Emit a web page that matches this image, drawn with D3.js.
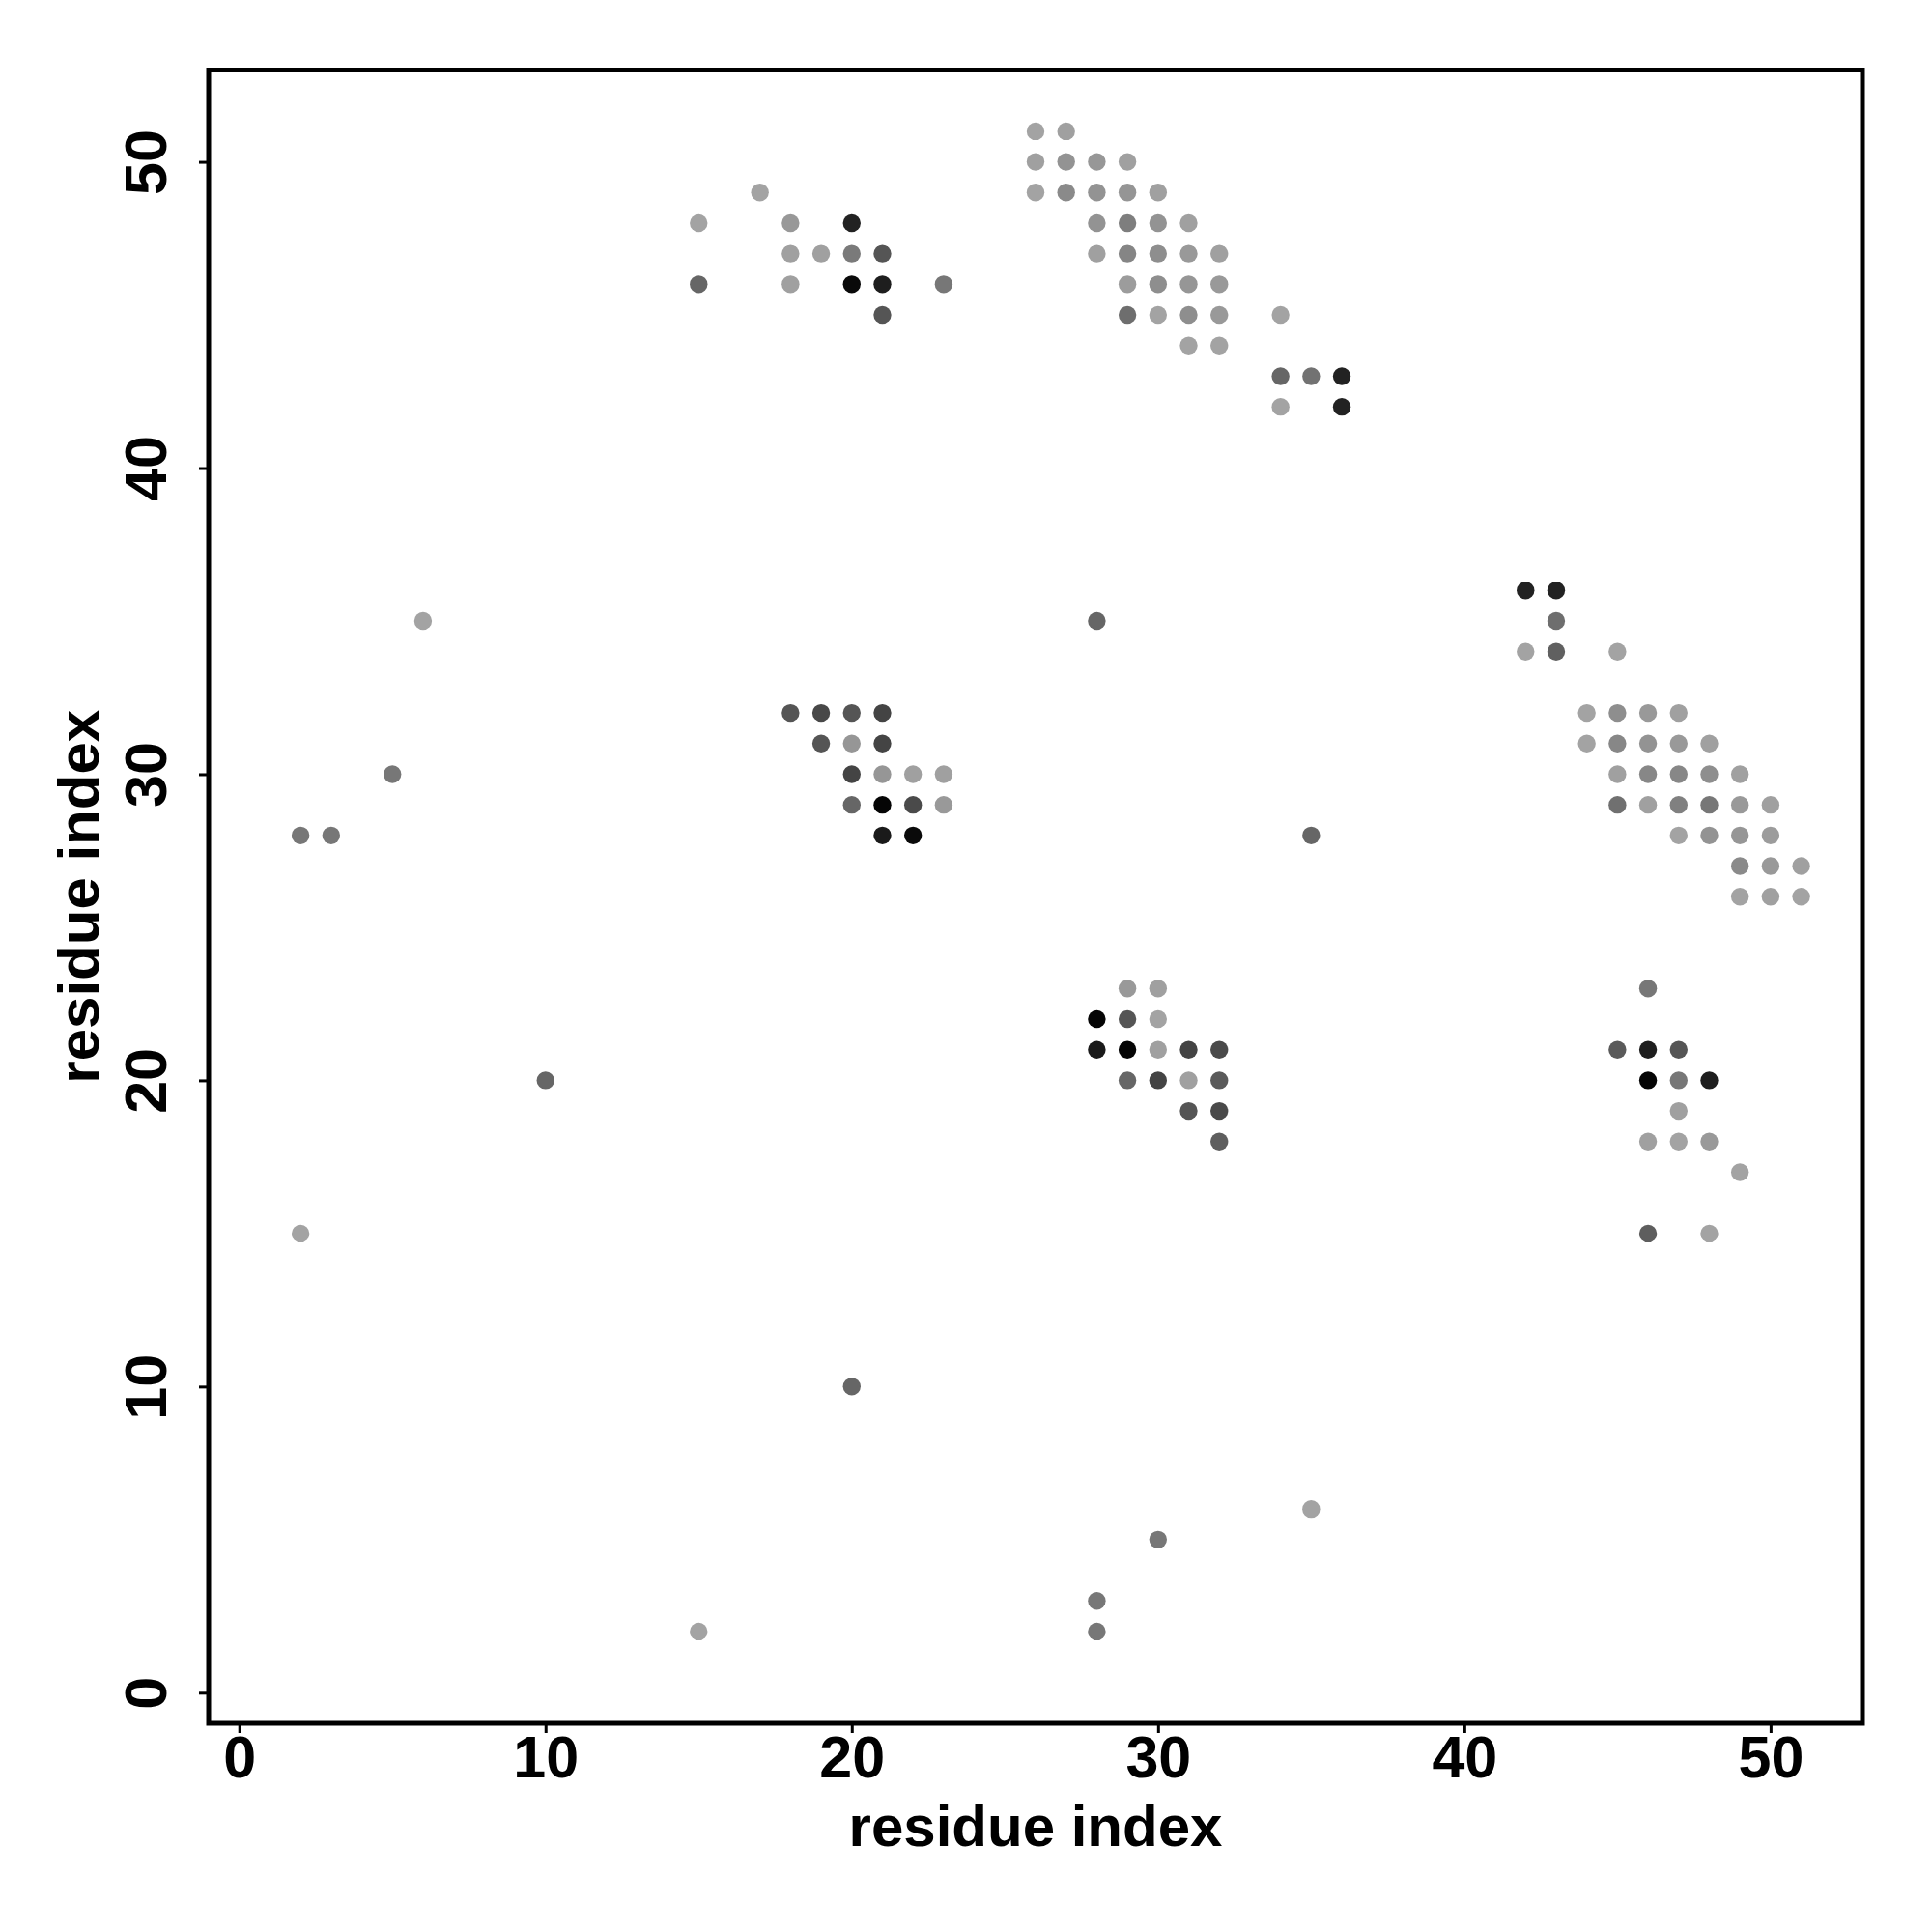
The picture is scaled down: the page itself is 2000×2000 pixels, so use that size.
<!DOCTYPE html>
<html>
<head>
<meta charset="utf-8">
<script src="https://cdn.jsdelivr.net/npm/d3@7"></script>
<style>
  html, body { margin: 0; padding: 0; background: #fff; }
  svg { display: block; }
</style>
</head>
<body>
<svg id="chart" width="2000" height="2000"></svg>
<script>
// ---- data: contact map (residue i, residue j, gray level 0-255) ----
const resX = [
  17,15,18,20,18,19,20,21,15,18,20,21,23,21,
  26,27,26,27,28,29,26,27,28,29,30,28,29,30,31,28,29,30,31,32,29,30,31,32,29,30,31,32,34,31,32,34,35,36,34,36,
  18,19,20,21,19,20,21,20,21,22,23,20,21,22,23,21,22,
  42,43,43,42,43,45,44,45,46,47,44,45,46,47,48,45,46,47,48,49,45,46,47,48,49,50,47,48,49,50,49,50,51,49,50,51,
  29,30,28,29,30,28,29,30,31,32,29,30,31,32,31,32,32,
  46,45,46,47,46,47,48,47,46,47,48,49,46,48,
  6,5,2,3,10,2,28,35,20,35,30,28,28,15
];
const resY = [
  49,48,48,48,47,47,47,47,46,46,46,46,46,45,
  51,51,50,50,50,50,49,49,49,49,49,48,48,48,48,47,47,47,47,47,46,46,46,46,45,45,45,45,45,44,44,43,43,43,42,42,
  32,32,32,32,31,31,31,30,30,30,30,29,29,29,29,28,28,
  36,36,35,34,34,34,32,32,32,32,31,31,31,31,31,30,30,30,30,30,29,29,29,29,29,29,28,28,28,28,27,27,27,26,26,26,
  23,23,22,22,22,21,21,21,21,21,20,20,20,20,19,19,18,
  23,21,21,21,20,20,20,19,18,18,18,17,15,15,
  35,30,28,28,20,15,35,28,10,6,5,3,2,2
];
const grayLevel = [
  163,163,152,34,160,160,122,85,102,160,10,30,119,85,
  163,160,160,147,151,160,163,138,147,149,160,147,126,147,160,160,133,142,153,160,156,142,150,153,110,163,142,153,163,163,163,102,114,34,163,34,
  85,72,85,68,85,150,68,68,150,160,160,102,5,74,153,26,10,
  34,34,110,163,96,163,163,142,153,160,163,135,147,153,160,160,135,135,142,160,112,160,128,119,153,160,163,147,150,156,138,153,160,163,160,163,
  153,160,5,85,163,26,5,160,68,74,102,68,160,90,85,74,94,
  119,90,30,85,5,119,30,160,160,163,153,163,94,163,
  163,119,119,119,102,163,102,102,102,163,119,119,119,163
];
const xTicks = [0, 10, 20, 30, 40, 50];
const yTicks = [0, 10, 20, 30, 40, 50];
const xLabel = "residue index";
const yLabel = "residue index";

const points = resX.map((v, i) => ({ x: v, y: resY[i], g: grayLevel[i] }));

// ---- layout ----
const L = 216, R = 1928, T = 72.5, B = 1784;
const svg = d3.select("#chart");
const font = "'Liberation Sans', Arial, Helvetica, sans-serif";

const x = d3.scaleLinear().domain([-1, 53]).range([L, R]);
const y = d3.scaleLinear().domain([-1, 53]).range([B, T]);
const gray = d3.scaleLinear().domain([0, 255]).range([0, 255]);

// points
svg.append("g").selectAll("circle").data(points).join("circle")
  .attr("cx", d => x(d.x))
  .attr("cy", d => y(d.y))
  .attr("r", 9.2)
  .attr("fill", d => { const v = Math.round(gray(d.g)); return d3.rgb(v, v, v).formatHex(); });

// x axis
const gx = svg.append("g").attr("transform", `translate(0,${B})`)
  .call(d3.axisBottom(x).tickValues(xTicks).tickSize(10).tickFormat(d3.format("d")));
gx.select(".domain").remove();
gx.selectAll(".tick line").attr("stroke", "#000").attr("stroke-width", 3);
gx.selectAll(".tick text")
  .attr("y", 56).attr("dy", 0)
  .attr("font-family", font).attr("font-weight", "bold").attr("font-size", 61)
  .attr("fill", "#000");

// y axis
const gy = svg.append("g").attr("transform", `translate(${L},0)`)
  .call(d3.axisLeft(y).tickValues(yTicks).tickSize(10).tickFormat(d3.format("d")));
gy.select(".domain").remove();
gy.selectAll(".tick line").attr("stroke", "#000").attr("stroke-width", 3);
gy.selectAll(".tick text")
  .attr("x", 0).attr("y", 0).attr("dy", 0)
  .attr("text-anchor", "middle")
  .attr("transform", "translate(-44,0) rotate(-90)")
  .attr("font-family", font).attr("font-weight", "bold").attr("font-size", 61)
  .attr("fill", "#000");

// box
svg.append("rect")
  .attr("x", L).attr("y", T).attr("width", R - L).attr("height", B - T)
  .attr("fill", "none").attr("stroke", "#000").attr("stroke-width", 5);

// axis titles
svg.append("text")
  .attr("x", (L + R) / 2).attr("y", 1911)
  .attr("text-anchor", "middle")
  .attr("font-family", font).attr("font-weight", "bold").attr("font-size", 60)
  .text(xLabel);
svg.append("text")
  .attr("transform", `translate(102,${(T + B) / 2}) rotate(-90)`)
  .attr("text-anchor", "middle")
  .attr("font-family", font).attr("font-weight", "bold").attr("font-size", 60)
  .text(yLabel);
</script>
</body>
</html>
